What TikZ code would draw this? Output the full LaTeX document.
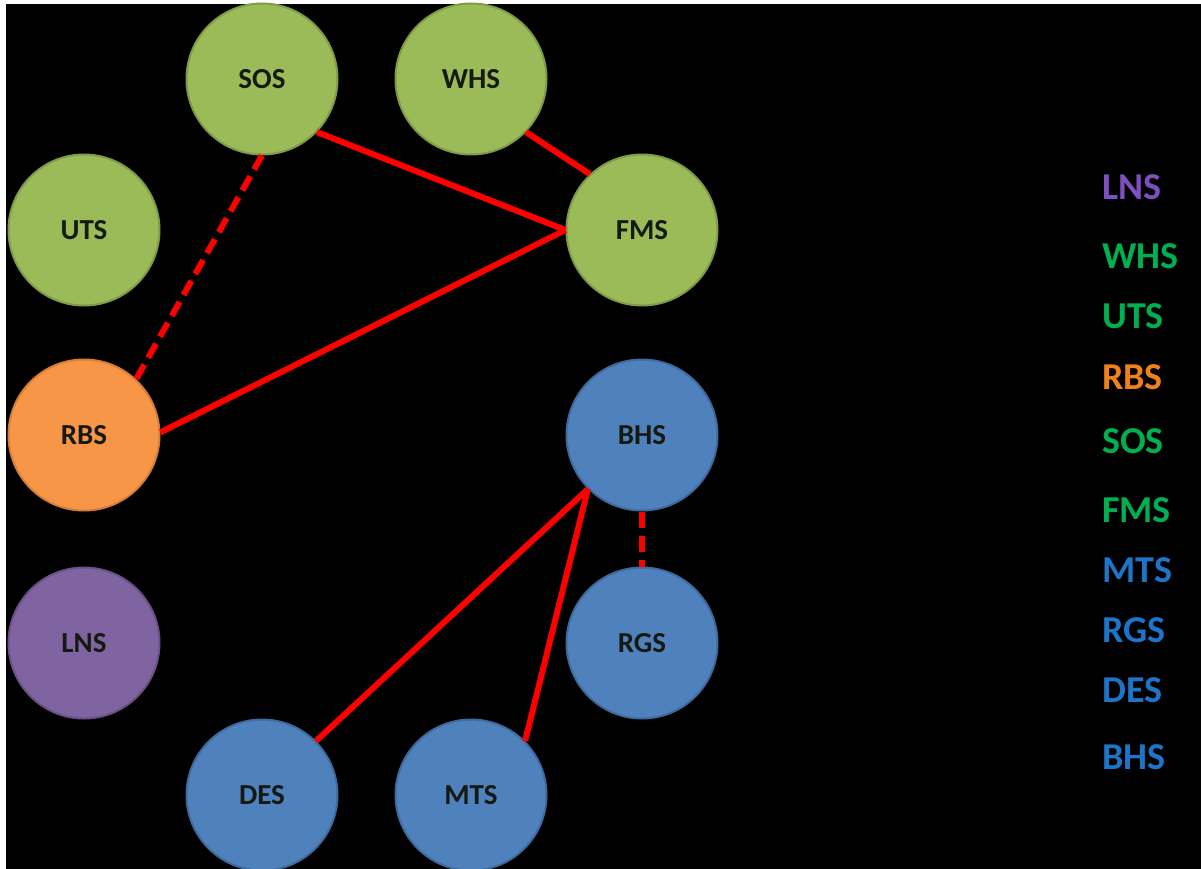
\documentclass[tikz,border=0pt]{standalone}
\usepackage{fontspec}
\setmainfont{Carlito}
\definecolor{grn}{HTML}{9BBB59}
\definecolor{grnd}{HTML}{7F9A48}
\definecolor{org}{HTML}{F79646}
\definecolor{orgd}{HTML}{D97E35}
\definecolor{pur}{HTML}{8064A2}
\definecolor{purd}{HTML}{6A5287}
\definecolor{blu}{HTML}{4F81BD}
\definecolor{blud}{HTML}{3E6A9E}
\definecolor{txt}{HTML}{141A10}
\definecolor{lpur}{HTML}{7E4FC0}
\definecolor{lgrn}{HTML}{00B050}
\definecolor{lorg}{HTML}{F0801A}
\definecolor{lblu}{HTML}{1C75C8}
\begin{document}
\begin{tikzpicture}[x=1pt,y=-1pt,
  stn/.style={circle,minimum size=151pt,inner sep=0pt,line width=2pt,
    font=\fontsize{29}{30}\selectfont\bfseries,text=txt},
  gn/.style={stn,fill=grn,draw=grnd},
  on/.style={stn,fill=org,draw=orgd},
  pn/.style={stn,fill=pur,draw=purd},
  bn/.style={stn,fill=blu,draw=blud},
  lg/.style={anchor=west,inner sep=0pt,font=\fontsize{38}{40}\selectfont\bfseries},
  lnk/.style={draw=red,line width=6pt},
  dlnk/.style={lnk,dash pattern=on 16pt off 8pt}]
\fill[white] (0,0) rectangle (1201,869);
\fill[black] (6,4) rectangle (1201,869);
\useasboundingbox (0,0) rectangle (1201,869);
% nodes
\node[gn] (sos) at (262,79) {SOS};
\node[gn] (whs) at (471,79) {WHS};
\node[gn] (uts) at (84,230) {UTS};
\node[gn] (fms) at (642,230) {FMS};
\node[on] (rbs) at (84,435) {RBS};
\node[bn] (bhs) at (642,435) {BHS};
\node[pn] (lns) at (84,643) {LNS};
\node[bn] (rgs) at (642,643) {RGS};
\node[bn] (des) at (262,795) {DES};
\node[bn] (mts) at (471,795) {MTS};
% links
\draw[lnk] (sos.-44) -- (fms.180);
\draw[lnk] (whs.-44) -- (fms.133);
\draw[lnk] (fms.180) -- (rbs.2);
\draw[dlnk] (sos.-90) -- (rbs.47);
\draw[dlnk] (bhs.-90) -- (rgs.90);
\draw[lnk] (bhs.225) -- (des.45);
\draw[lnk] (bhs.225) -- (mts.45);
% legend
\node[lg,text=lpur] (l1) at (1102,187) {LNS};
\node[lg,text=lgrn] (l2) at (1102,256) {WHS};
\node[lg,text=lgrn] (l3) at (1102,316) {UTS};
\node[lg,text=lorg] (l4) at (1102,377) {RBS};
\node[lg,text=lgrn] (l5) at (1102,441) {SOS};
\node[lg,text=lgrn] (l6) at (1102,510) {FMS};
\node[lg,text=lblu] (l7) at (1102,570) {MTS};
\node[lg,text=lblu] (l8) at (1102,630) {RGS};
\node[lg,text=lblu] (l9) at (1102,690) {DES};
\node[lg,text=lblu] (l10) at (1102,757) {BHS};
\end{tikzpicture}
\end{document}
